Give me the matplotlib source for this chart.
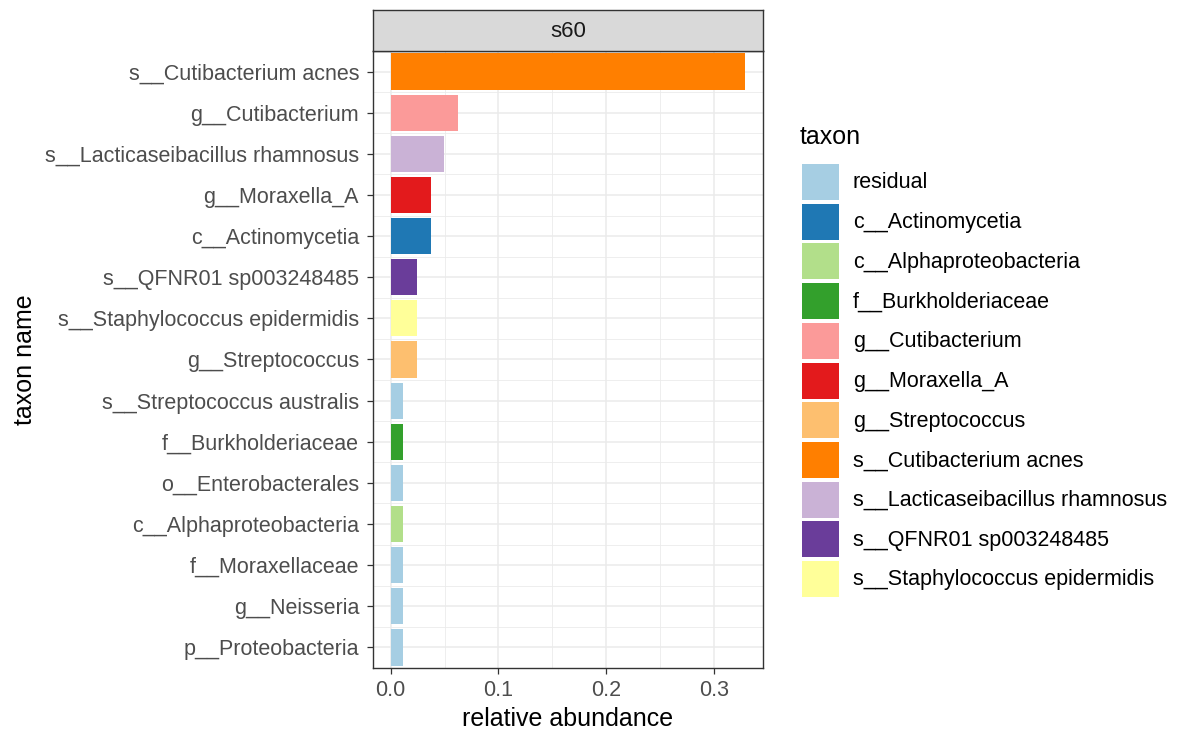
import matplotlib
matplotlib.use("Agg")
import matplotlib.pyplot as plt
from matplotlib.patches import Rectangle
from matplotlib.ticker import MultipleLocator

plt.rcParams['font.family'] = ['Liberation Sans', 'DejaVu Sans']

# taxa shown top to bottom
taxon_names = [
    "s__Cutibacterium acnes", "g__Cutibacterium", "s__Lacticaseibacillus rhamnosus",
    "g__Moraxella_A", "c__Actinomycetia", "s__QFNR01 sp003248485",
    "s__Staphylococcus epidermidis", "g__Streptococcus", "s__Streptococcus australis",
    "f__Burkholderiaceae", "o__Enterobacterales", "c__Alphaproteobacteria",
    "f__Moraxellaceae", "g__Neisseria", "p__Proteobacteria",
]
abundance = [0.329, 0.062, 0.049, 0.037, 0.037, 0.024, 0.024, 0.024,
             0.011, 0.011, 0.011, 0.011, 0.011, 0.011, 0.011]
taxon_group = [
    "s__Cutibacterium acnes", "g__Cutibacterium", "s__Lacticaseibacillus rhamnosus",
    "g__Moraxella_A", "c__Actinomycetia", "s__QFNR01 sp003248485",
    "s__Staphylococcus epidermidis", "g__Streptococcus", "residual",
    "f__Burkholderiaceae", "residual", "c__Alphaproteobacteria",
    "residual", "residual", "residual",
]

legend_levels = [
    "residual", "c__Actinomycetia", "c__Alphaproteobacteria", "f__Burkholderiaceae",
    "g__Cutibacterium", "g__Moraxella_A", "g__Streptococcus", "s__Cutibacterium acnes",
    "s__Lacticaseibacillus rhamnosus", "s__QFNR01 sp003248485",
    "s__Staphylococcus epidermidis",
]
palette = ["#A6CEE3", "#1F78B4", "#B2DF8A", "#33A02C", "#FB9A99", "#E31A1C",
           "#FDBF6F", "#FF7F00", "#CAB2D6", "#6A3D9A", "#FFFF99"]
color_of = dict(zip(legend_levels, palette))

W, H = 1184, 733
fig = plt.figure(figsize=(W / 100, H / 100), dpi=100)

# panel geometry in pixels
px_l, px_r, px_t, px_b = 373, 763, 51, 668
ax = fig.add_axes([px_l / W, 1 - px_b / H, (px_r - px_l) / W, (px_b - px_t) / H])

ypos = list(range(len(taxon_names)))
ax.barh(ypos, abundance, height=0.88,
        color=[color_of[g] for g in taxon_group], zorder=3)

span = max(abundance)
ax.set_xlim(-0.05 * span, 1.05 * span)
ax.set_ylim(len(taxon_names) - 0.5, -0.5)

ax.xaxis.set_minor_locator(MultipleLocator(0.05))
ax.set_xticks([0.0, 0.1, 0.2, 0.3])
ax.set_xticklabels(["0.0", "0.1", "0.2", "0.3"])
ax.set_yticks(ypos)
ax.set_yticklabels(taxon_names)
ax.set_yticks([y + 0.5 for y in ypos[:-1]], minor=True)

ax.grid(True, which='major', color='#EBEBEB', linewidth=1.1, zorder=0)
ax.grid(True, which='minor', color='#EBEBEB', linewidth=0.6, zorder=0)
ax.set_axisbelow(True)

for s in ax.spines.values():
    s.set_color('#333333')
    s.set_linewidth(1.0)

ax.tick_params(which='major', length=4, width=0.9, color='#333333',
               labelcolor='#4D4D4D', labelsize=15.5)
ax.tick_params(axis='y', which='major', pad=6)
ax.tick_params(axis='x', which='major', pad=5)
ax.tick_params(which='minor', length=0)

ax.set_xlabel("relative abundance", fontsize=18, color='black', labelpad=4)
ax.set_ylabel("taxon name", fontsize=18, color='black', labelpad=6)

# facet strip
strip_top = 10
sax = fig.add_axes([px_l / W, 1 - px_t / H, (px_r - px_l) / W, (px_t - strip_top) / H])
sax.set_xticks([])
sax.set_yticks([])
sax.set_facecolor('#D9D9D9')
for s in sax.spines.values():
    s.set_color('#333333')
    s.set_linewidth(1.0)
sax.text(0.5, 0.48, "s60", ha='center', va='center', fontsize=16, color='#1A1A1A',
         transform=sax.transAxes)

# legend drawn in pixel units
lax = fig.add_axes([0, 0, 1, 1], zorder=-1)
lax.set_xlim(0, W)
lax.set_ylim(H, 0)
lax.axis('off')
lax.text(800, 137, "taxon", fontsize=18, ha='left', va='center', color='black')
key_x, key_w, key_h, pitch, first_y = 802, 37, 36, 39.7, 164
for i, (lvl, col) in enumerate(zip(legend_levels, palette)):
    y0 = first_y + i * pitch
    lax.add_patch(Rectangle((key_x, y0), key_w, key_h, facecolor=col, edgecolor='none'))
    lax.text(853, y0 + key_h / 2 + 1, lvl, fontsize=15.5, ha='left', va='center',
             color='black')

fig.savefig("out.png", dpi=100, facecolor='white')
